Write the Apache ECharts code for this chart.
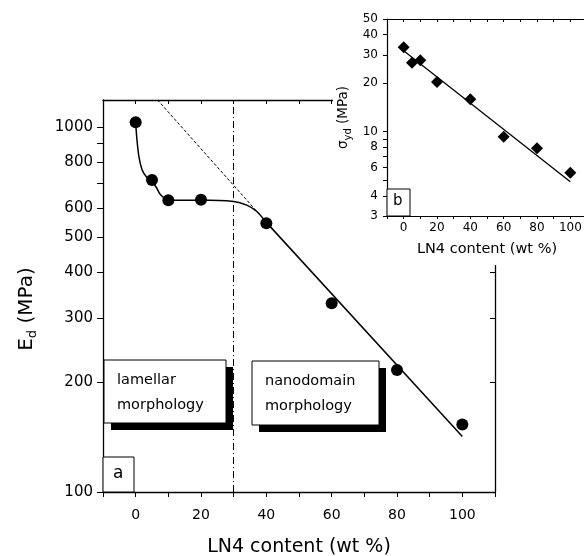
<!DOCTYPE html>
<html>
<head>
<meta charset="utf-8">
<script src="https://cdn.jsdelivr.net/npm/echarts@6/dist/echarts.min.js"></script>
<style>
html, body { margin: 0; padding: 0; background: #fff; }
#chart { width: 584px; height: 556px; }
</style>
</head>
<body>
<div id="chart"></div>
<script>
var myChart = echarts.init(document.getElementById('chart'));

// main plot (a): modulus vs LN4 content
var mainX = [0, 5, 10, 20, 40, 60, 80, 100];
var mainY = [1030, 716, 630, 632, 545, 329, 216, 153];
// guide curve (lamellar part, then straight fit)
var curveX = [0, 0.4, 1, 2, 3.4, 4.8, 6.2, 7.7, 10, 15, 20, 30, 34, 37, 40];
var curveY = [1030, 921, 830, 763, 728, 712, 686, 651, 632, 630, 631, 625, 611, 588, 548];
var fitX = [40, 100];
var fitY = [548, 142];
// dashed extension of the straight fit
var extX = [6.7, 38];
var extY = [1186, 575];
var mainYTicks = [100, 200, 300, 400, 500, 600, 700, 800, 900, 1000];
var mainYLabels = [100, 200, 300, 400, 500, 600, 800, 1000];
var morphBorder = 30;

// inset (b): yield stress
var insetX = [0, 5, 10, 20, 40, 60, 80, 100];
var insetY = [33.4, 26.8, 27.7, 20.3, 15.9, 9.3, 7.9, 5.57];
var insetFitX = [0, 100];
var insetFitY = [31.8, 4.9];
var insetYTicks = [3, 4, 5, 6, 7, 8, 9, 10, 20, 30, 40, 50];
var insetYLabels = [3, 4, 6, 8, 10, 20, 30, 40, 50];

function pairs(xs, ys) {
    var res = [];
    for (var i = 0; i < xs.length; i++) res.push([xs[i], ys[i]]);
    return res;
}

var font = 'DejaVu Sans, sans-serif';
var xLab = function (v) { return (v >= 0 && v <= 100 && v % 20 === 0) ? v : ''; };
var plain = function (v) { return String(Math.round(v)); };

function box(x, y, w, h, lines, z) {
    return {
        type: 'group', z: z,
        children: [
            { type: 'rect', z: z, shape: { x: x + 7, y: y + 7, width: w, height: h }, style: { fill: '#000' } },
            { type: 'rect', z: z + 1, shape: { x: x, y: y, width: w, height: h }, style: { fill: '#fff', stroke: '#000', lineWidth: 1 } },
            { type: 'text', z: z + 2, x: x + 13, y: y + 8, style: { text: lines, font: '14.5px ' + font, fill: '#000', lineHeight: 25 } }
        ]
    };
}

option = {
    animation: false,
    backgroundColor: '#fff',
    textStyle: { fontFamily: font },
    grid: [
        { left: 103, top: 100, right: 89, bottom: 64, outerBoundsMode: 'none', containLabel: false },
        { left: 387, top: 19, right: -3, bottom: 340, z: 20, outerBoundsMode: 'none', containLabel: false }
    ],
    xAxis: [
        {
            gridIndex: 0, type: 'value', min: -10, max: 110, interval: 10,
            name: 'LN4 content (wt %)', nameLocation: 'middle', nameGap: 46,
            nameTextStyle: { fontSize: 19, color: '#000', fontFamily: font },
            axisLine: { onZero: false, lineStyle: { color: '#000', width: 1.3 } },
            axisTick: { length: 5, lineStyle: { color: '#000' } },
            axisLabel: { formatter: xLab, fontSize: 14, color: '#000', margin: 16, fontFamily: font },
            splitLine: { show: false }
        },
        {
            gridIndex: 0, type: 'value', position: 'top', min: -10, max: 110, interval: 10,
            axisLine: { onZero: false, lineStyle: { color: '#000', width: 1.3 } },
            axisTick: { inside: true, length: 4, lineStyle: { color: '#000' } },
            axisLabel: { show: false }, splitLine: { show: false }
        },
        {
            gridIndex: 1, type: 'value', min: -10, max: 110, interval: 10, z: 20,
            name: 'LN4 content (wt %)', nameLocation: 'middle', nameGap: 26,
            nameTextStyle: { fontSize: 14.5, color: '#000', fontFamily: font },
            axisLine: { onZero: false, lineStyle: { color: '#000', width: 1.2 } },
            axisTick: { length: 3, lineStyle: { color: '#000' } },
            axisLabel: { formatter: xLab, fontSize: 12, color: '#000', margin: 6, fontFamily: font },
            splitLine: { show: false }
        },
        {
            gridIndex: 1, type: 'value', position: 'top', min: -10, max: 110, interval: 10, z: 20,
            axisLine: { onZero: false, lineStyle: { color: '#000', width: 1.2 } },
            axisTick: { inside: true, length: 3, lineStyle: { color: '#000' } },
            axisLabel: { show: false }, splitLine: { show: false }
        }
    ],
    yAxis: [
        {
            gridIndex: 0, type: 'log', min: 100, max: 1186,
            name: '{n|E}{s|d}{n| (MPa)}', nameLocation: 'middle', nameGap: 64,
            nameTextStyle: {
                color: '#000', padding: [0, 26, 0, 0],
                rich: {
                    n: { fontSize: 20, lineHeight: 24, color: '#000', fontFamily: font },
                    s: { fontSize: 13, lineHeight: 10, verticalAlign: 'bottom', color: '#000', fontFamily: font }
                }
            },
            axisLine: { onZero: false, lineStyle: { color: '#000', width: 1.3 } },
            axisTick: { length: 6, customValues: mainYTicks, lineStyle: { color: '#000' } },
            minorTick: { show: false },
            axisLabel: { customValues: mainYLabels, formatter: plain, fontSize: 15, color: '#000', margin: 10, fontFamily: font },
            splitLine: { show: false }
        },
        {
            gridIndex: 0, type: 'log', min: 100, max: 1186, position: 'right',
            axisLine: { onZero: false, lineStyle: { color: '#000', width: 1.3 } },
            axisTick: { inside: true, length: 5, customValues: mainYTicks, lineStyle: { color: '#000' } },
            axisLabel: { show: false }, splitLine: { show: false }
        },
        {
            gridIndex: 1, type: 'log', min: 3, max: 50, z: 20,
            name: '{n|σ}{s|yd}{n| (MPa)}', nameLocation: 'middle', nameGap: 34,
            nameTextStyle: {
                color: '#000',
                rich: {
                    n: { fontSize: 13.5, lineHeight: 20, color: '#000', fontFamily: font },
                    s: { fontSize: 10, lineHeight: 9, verticalAlign: 'bottom', color: '#000', fontFamily: font }
                }
            },
            axisLine: { onZero: false, lineStyle: { color: '#000', width: 1.2 } },
            axisTick: { length: 4, customValues: insetYTicks, lineStyle: { color: '#000' } },
            axisLabel: { customValues: insetYLabels, formatter: plain, fontSize: 12, color: '#000', margin: 9, fontFamily: font },
            splitLine: { show: false }
        }
    ],
    graphic: [
        // white backdrop of the inset
        { type: 'rect', z: 10, shape: { x: 333, y: 0, width: 260, height: 265 }, style: { fill: '#fff' } },
        box(104, 360, 122, 63, 'lamellar\nmorphology', 5),
        box(252, 361, 127, 64, 'nanodomain\nmorphology', 5),
        { type: 'rect', z: 5, shape: { x: 103, y: 457, width: 31, height: 35 }, style: { fill: '#fff', stroke: '#000', lineWidth: 1 } },
        { type: 'text', z: 6, x: 113, y: 465, style: { text: 'a', font: '17px ' + font, fill: '#000' } },
        { type: 'rect', z: 30, shape: { x: 387, y: 189, width: 23, height: 27 }, style: { fill: '#fff', stroke: '#000', lineWidth: 1 } },
        { type: 'text', z: 31, x: 393, y: 194, style: { text: 'b', font: '15px ' + font, fill: '#000' } }
    ],
    series: [
        {
            type: 'line', xAxisIndex: 0, yAxisIndex: 0,
            data: pairs(curveX, curveY),
            smooth: 0.3, showSymbol: false,
            lineStyle: { color: '#000', width: 1.5 },
            markLine: {
                silent: true, symbol: 'none', label: { show: false },
                lineStyle: { color: '#000', width: 1, type: [7, 3, 1, 3] },
                data: [{ xAxis: morphBorder }]
            }
        },
        {
            type: 'line', xAxisIndex: 0, yAxisIndex: 0,
            data: pairs(fitX, fitY), showSymbol: false,
            lineStyle: { color: '#000', width: 1.5 }
        },
        {
            type: 'line', xAxisIndex: 0, yAxisIndex: 0,
            data: pairs(extX, extY), showSymbol: false,
            lineStyle: { color: '#000', width: 1, type: [3, 2] }
        },
        {
            type: 'scatter', xAxisIndex: 0, yAxisIndex: 0, z: 3,
            data: pairs(mainX, mainY), symbol: 'circle', symbolSize: 12,
            itemStyle: { color: '#000', opacity: 1 }
        },
        {
            type: 'line', xAxisIndex: 2, yAxisIndex: 2, z: 21,
            data: pairs(insetFitX, insetFitY), showSymbol: false,
            lineStyle: { color: '#000', width: 1.3 }
        },
        {
            type: 'scatter', xAxisIndex: 2, yAxisIndex: 2, z: 22,
            data: pairs(insetX, insetY), symbol: 'diamond', symbolSize: [12, 12],
            itemStyle: { color: '#000', opacity: 1 }
        }
    ]
};

myChart.setOption(option);
</script>
</body>
</html>
